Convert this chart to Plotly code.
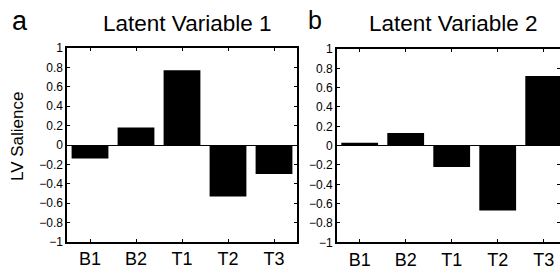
import plotly.graph_objects as go

categories = ["B1", "B2", "T1", "T2", "T3"]
lv1_values = [-0.14, 0.18, 0.77, -0.53, -0.30]
lv2_values = [0.03, 0.13, -0.22, -0.67, 0.72]
titles = ["Latent Variable 1", "Latent Variable 2"]
panel_letters = ["a", "b"]
y_ticks = [-1, -0.8, -0.6, -0.4, -0.2, 0, 0.2, 0.4, 0.6, 0.8, 1]
y_ticktext = ["\u22121", "\u22120.8", "\u22120.6", "\u22120.4", "\u22120.2", "0",
              "0.2", "0.4", "0.6", "0.8", "1"]

W, H = 560, 268
FONT = "Liberation Sans, Arial, sans-serif"

fig = go.Figure()
fig.add_trace(go.Bar(x=categories, y=lv1_values, width=0.8,
                     marker=dict(color="black", line=dict(width=0)),
                     xaxis="x", yaxis="y", showlegend=False))
fig.add_trace(go.Bar(x=categories, y=lv2_values, width=0.8,
                     marker=dict(color="black", line=dict(width=0)),
                     xaxis="x2", yaxis="y2", showlegend=False))

# pixel geometry
ax_a = (67, 297, 48, 242)
ax_b = (336.7, 560, 49, 242.3)
unit_px = 46.0

def xdom(a):
    return [a[0] / W, a[1] / W]

def ydom(a):
    return [1 - a[3] / H, 1 - a[2] / H]

common_x = dict(type="category", showline=True, linecolor="black", linewidth=1.6,
                ticks="inside", ticklen=3, tickwidth=1, tickcolor="black",
                showgrid=False, zeroline=False, automargin=False,
                tickfont=dict(family=FONT, size=18, color="black"))
common_y = dict(range=[-1, 1], tickvals=y_ticks, ticktext=y_ticktext,
                showline=True, linecolor="black", linewidth=1.6,
                ticks="inside", ticklen=3, tickwidth=1, tickcolor="black",
                showgrid=False, zeroline=True, zerolinecolor="black", zerolinewidth=1,
                automargin=False,
                tickfont=dict(family=FONT, size=12, color="black"))

fig.update_layout(
    width=W, height=H, margin=dict(l=0, r=0, t=0, b=0, autoexpand=False),
    paper_bgcolor="white", plot_bgcolor="white",
    bargap=0.2,
    xaxis=dict(domain=xdom(ax_a), range=[-0.5, 4.5], anchor="y", mirror="ticks", **common_x),
    yaxis=dict(domain=ydom(ax_a), anchor="x", mirror="ticks", **common_y),
    xaxis2=dict(domain=xdom(ax_b), range=[-0.5, -0.5 + (ax_b[1] - ax_b[0]) / unit_px],
                anchor="y2", mirror="ticks", **common_x),
    yaxis2=dict(domain=ydom(ax_b), anchor="x2", mirror="ticks", **common_y),
)

annotations = [
    dict(text=titles[0], x=187 / W, y=1 - 38 / H, xref="paper", yref="paper",
         xanchor="center", yanchor="bottom", showarrow=False,
         font=dict(family=FONT, size=22.5, color="black")),
    dict(text=titles[1], x=453 / W, y=1 - 38 / H, xref="paper", yref="paper",
         xanchor="center", yanchor="bottom", showarrow=False,
         font=dict(family=FONT, size=22.5, color="black")),
    dict(text=panel_letters[0], x=10 / W, y=1 - 4 / H, xref="paper", yref="paper",
         xanchor="left", yanchor="top", showarrow=False,
         font=dict(family=FONT, size=27, color="black")),
    dict(text=panel_letters[1], x=306 / W, y=1 - 4 / H, xref="paper", yref="paper",
         xanchor="left", yanchor="top", showarrow=False,
         font=dict(family=FONT, size=25, color="black")),
    dict(text="LV Salience", x=17 / W, y=1 - 137 / H, xref="paper", yref="paper",
         xanchor="center", yanchor="middle", textangle=-90, showarrow=False,
         font=dict(family=FONT, size=17, color="black")),
]
fig.update_layout(annotations=annotations)

fig.write_html("out.html", config={"displayModeBar": False, "staticPlot": True})

with open("out.html", "r", encoding="utf-8") as f:
    html = f.read()
html = html.replace("<head>", "<head><style>html,body{margin:0;padding:0;overflow:hidden;}</style>", 1)
with open("out.html", "w", encoding="utf-8") as f:
    f.write(html)
